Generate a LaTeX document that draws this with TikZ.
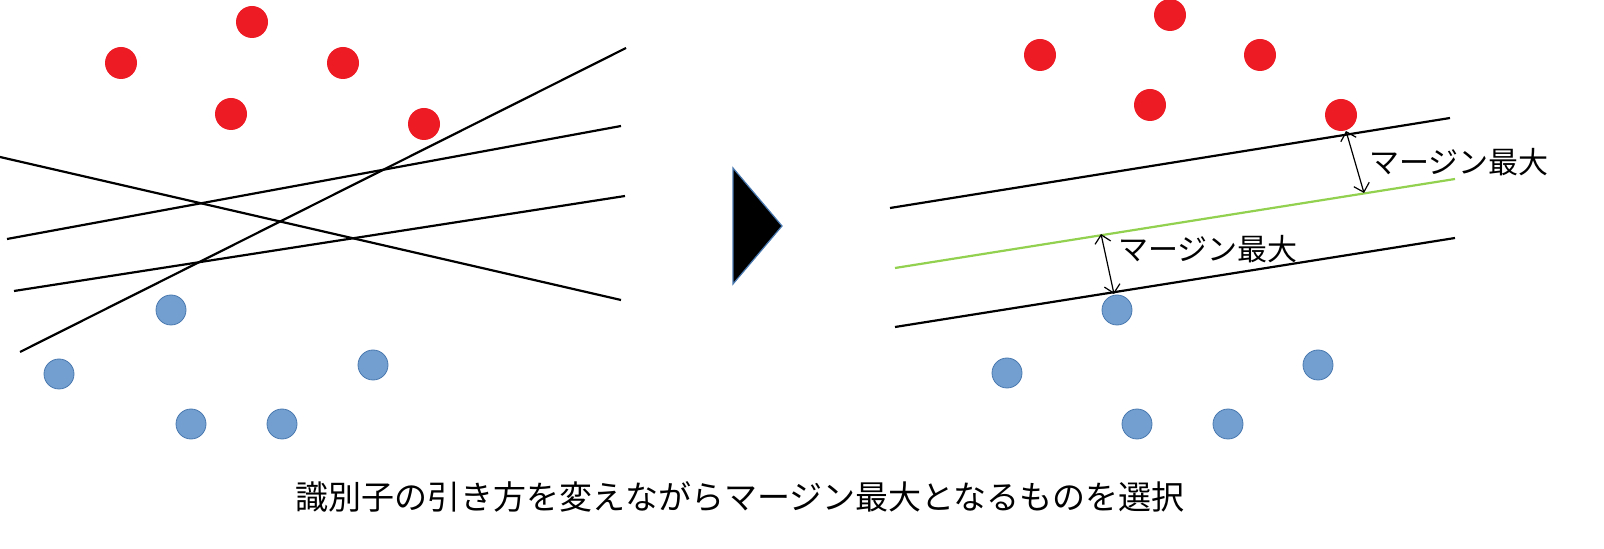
\documentclass[tikz,border=0pt]{standalone}
\usepackage{fontspec}
\setmainfont{Noto Sans CJK JP}
\usetikzlibrary{arrows.meta}
\definecolor{rd}{HTML}{ED1C24}
\definecolor{bl}{HTML}{729FCF}
\definecolor{bd}{HTML}{4A79B0}
\definecolor{gr}{HTML}{92D050}
\tikzset{reddot/.style={circle,fill=rd,inner sep=0,minimum size=16pt},
bluedot/.style={circle,fill=bl,draw=bd,line width=0.4pt,inner sep=0,minimum size=15pt},
ln/.style={line width=1.1pt},
marg/.style={<->,>={Straight Barb[length=4pt]},line width=0.6pt},
lbl/.style={anchor=west,font=\fontsize{15pt}{17pt}\selectfont,inner sep=0}}
\begin{document}
\begin{tikzpicture}[x=0.5pt,y=-0.5pt]
\clip (0,0) rectangle (1604,549);
\useasboundingbox (0,0) rectangle (1604,549);
\foreach \p [count=\i] in {(252,22),(121,63),(343,63),(231,114),(424,124)} {\node[reddot] (r\i) at \p {};}
\foreach \p [count=\i] in {(171,310),(59,374),(373,365),(191,424),(282,424)} {\node[bluedot] (b\i) at \p {};}
\coordinate (a1) at (0,157); \coordinate (a2) at (621,300);
\coordinate (c1) at (7,239); \coordinate (c2) at (621,126);
\coordinate (d1) at (14,291); \coordinate (d2) at (625,196);
\coordinate (e1) at (20,352); \coordinate (e2) at (626,48);
\draw[ln] (a1)--(a2); \draw[ln] (c1)--(c2); \draw[ln] (d1)--(d2); \draw[ln] (e1)--(e2);
\draw[fill=black,draw=bd,line width=0.6pt] (733,168)--(782,226)--(733,284)--cycle;
\foreach \p [count=\i] in {(1170,15),(1040,55),(1260,55),(1150,105),(1341,115)} {\node[reddot] (R\i) at \p {};}
\foreach \p [count=\i] in {(1117,310),(1007,373),(1318,365),(1137,424),(1228,424)} {\node[bluedot] (B\i) at \p {};}
\coordinate (f1) at (890,208); \coordinate (f2) at (1450,118);
\coordinate (g1) at (895,268); \coordinate (g2) at (1455,179);
\coordinate (h1) at (895,327); \coordinate (h2) at (1455,238);
\draw[ln] (f1)--(f2); \draw[ln,gr] (g1)--(g2); \draw[ln] (h1)--(h2);
\coordinate (m1) at (1346,131); \coordinate (m2) at (1364,193);
\coordinate (n1) at (1101,234); \coordinate (n2) at (1114,294);
\draw[marg] (m1)--(m2); \draw[marg] (n1)--(n2);
\node[lbl] (L1) at (1369,162) {マージン最大};
\node[lbl] (L2) at (1118,249) {マージン最大};
\node[font=\fontsize{16.5pt}{19pt}\selectfont,inner sep=0] (T) at (740,497) {識別子の引き方を変えながらマージン最大となるものを選択};
\end{tikzpicture}
\end{document}
